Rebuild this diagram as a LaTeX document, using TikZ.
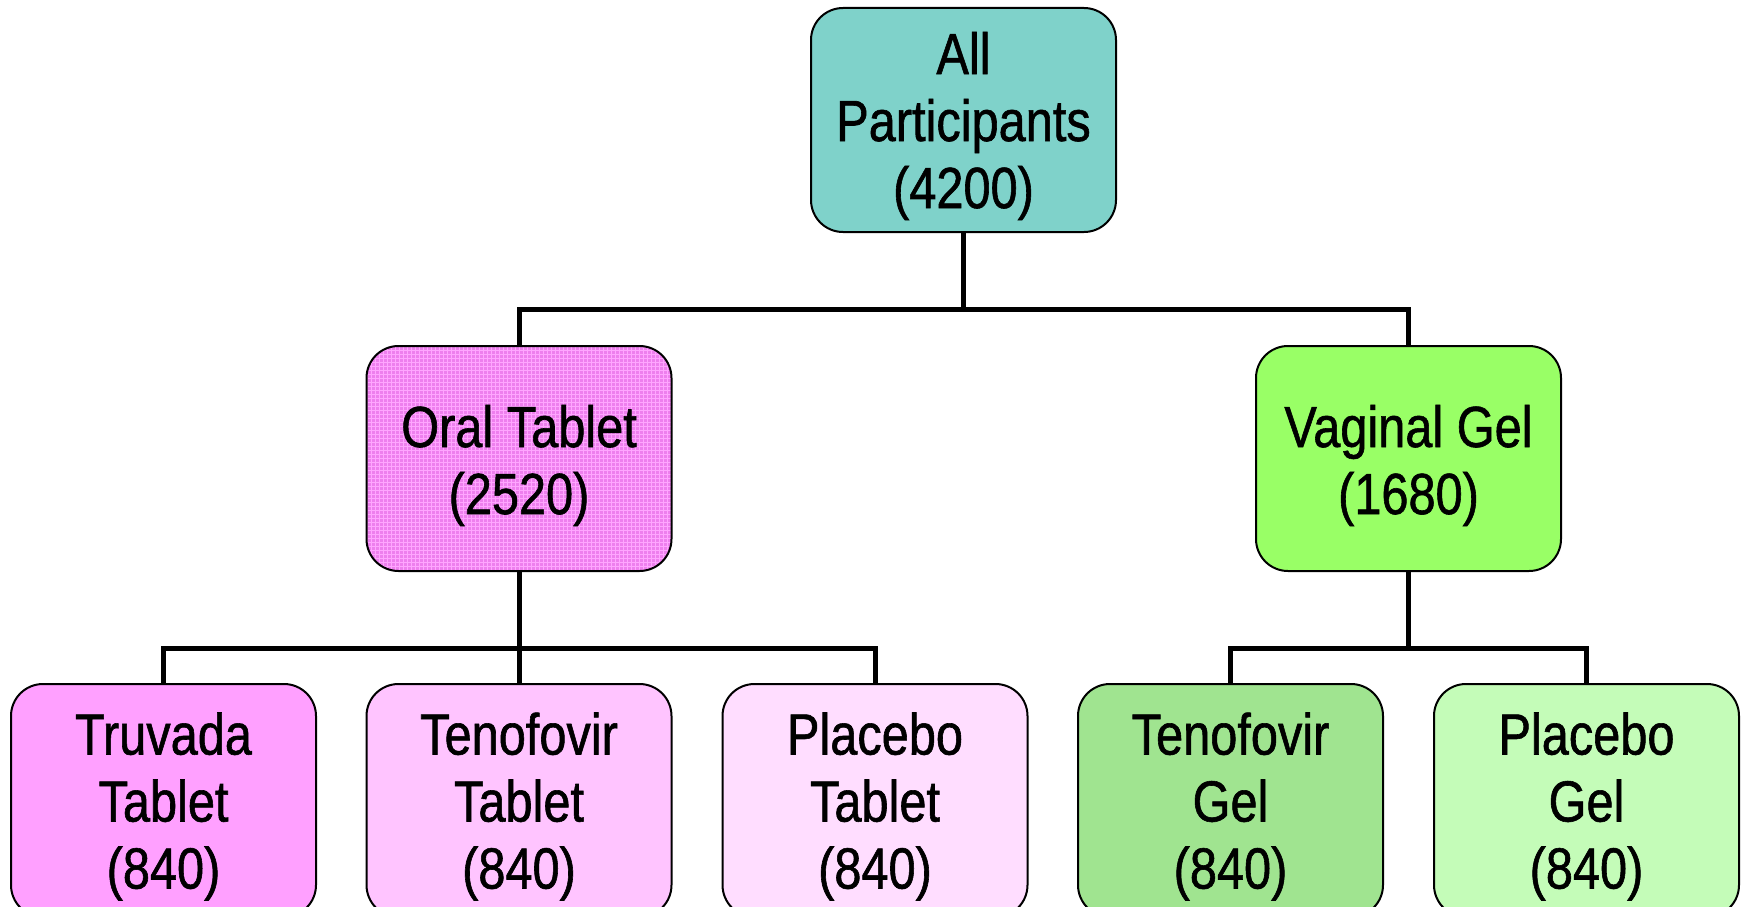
\documentclass[tikz,border=0pt]{standalone}
\usepackage{fontspec}
\setmainfont[FakeStretch=0.84,FakeBold=1]{Liberation Sans}
\definecolor{cTop}{HTML}{7FD2CA}
\definecolor{cOral}{HTML}{EE7FEE}
\definecolor{cOralGrid}{HTML}{FFA6FF}
\definecolor{cVag}{HTML}{99FF66}
\definecolor{cTru}{HTML}{FFA0FF}
\definecolor{cTenT}{HTML}{FFC4FF}
\definecolor{cPlaT}{HTML}{FFDDFF}
\definecolor{cTenG}{HTML}{A0E490}
\definecolor{cPlaG}{HTML}{C4FCB8}
\begin{document}
\begin{tikzpicture}[x=1pt,y=-1pt,
  box/.style={draw=black,line width=2pt,rounded corners=32pt,minimum width=305pt,inner sep=0pt},
  midbox/.style={box,minimum height=225pt},
  lowbox/.style={box,minimum height=233pt},
  txt/.style={align=center,inner sep=0pt,font=\fontsize{58}{67}\selectfont},
  conn/.style={draw=black,line width=5pt,line join=miter}]
\useasboundingbox (0,0) rectangle (1743,907);
\clip (0,0) rectangle (1743,907);
\node[box,minimum height=224pt,fill=cTop] (all) at (963.5,120) {};
\node[midbox,fill=cOral,path picture={\draw[cOralGrid,line width=1pt,step=4pt]
   (path picture bounding box.south west) grid (path picture bounding box.north east);}]
   (oral) at (519,458.5) {};
\node[midbox,fill=cVag] (vag) at (1408.5,458.5) {};
\node[lowbox,fill=cTru] (tru) at (163.5,800.5) {};
\node[lowbox,fill=cTenT] (tent) at (519,800.5) {};
\node[lowbox,fill=cPlaT] (plat) at (875,800.5) {};
\node[lowbox,fill=cTenG] (teng) at (1230.5,800.5) {};
\node[lowbox,fill=cPlaG] (plag) at (1586.5,800.5) {};
\node[txt] (allt) at ([yshift=-6pt]all.center) {All\\Participants\\(4200)};
\node[txt] (oralt) at ([yshift=-7pt]oral.center) {Oral Tablet\\(2520)};
\node[txt] (vagt) at ([yshift=-7pt]vag.center) {Vaginal Gel\\(1680)};
\node[txt] (trut) at ([yshift=-6pt]tru.center) {Truvada\\Tablet\\(840)};
\node[txt] (tentt) at ([yshift=-6pt]tent.center) {Tenofovir\\Tablet\\(840)};
\node[txt] (platt) at ([yshift=-6pt]plat.center) {Placebo\\Tablet\\(840)};
\node[txt] (tengt) at ([yshift=-6pt]teng.center) {Tenofovir\\Gel\\(840)};
\node[txt] (plagt) at ([yshift=-6pt]plag.center) {Placebo\\Gel\\(840)};
\coordinate (b1) at (963.5,309);
\coordinate (b2) at (519,648);
\coordinate (b3) at (1408.5,648);
\draw[conn] (all.south) -- (b1);
\draw[conn] (oral.north) |- (b1) -| (vag.north);
\draw[conn] (oral.south) -- (b2);
\draw[conn] (tent.north) -- (b2);
\draw[conn] (tru.north) |- (b2) -| (plat.north);
\draw[conn] (vag.south) -- (b3);
\draw[conn] (teng.north) |- (b3) -| (plag.north);
\end{tikzpicture}
\end{document}
